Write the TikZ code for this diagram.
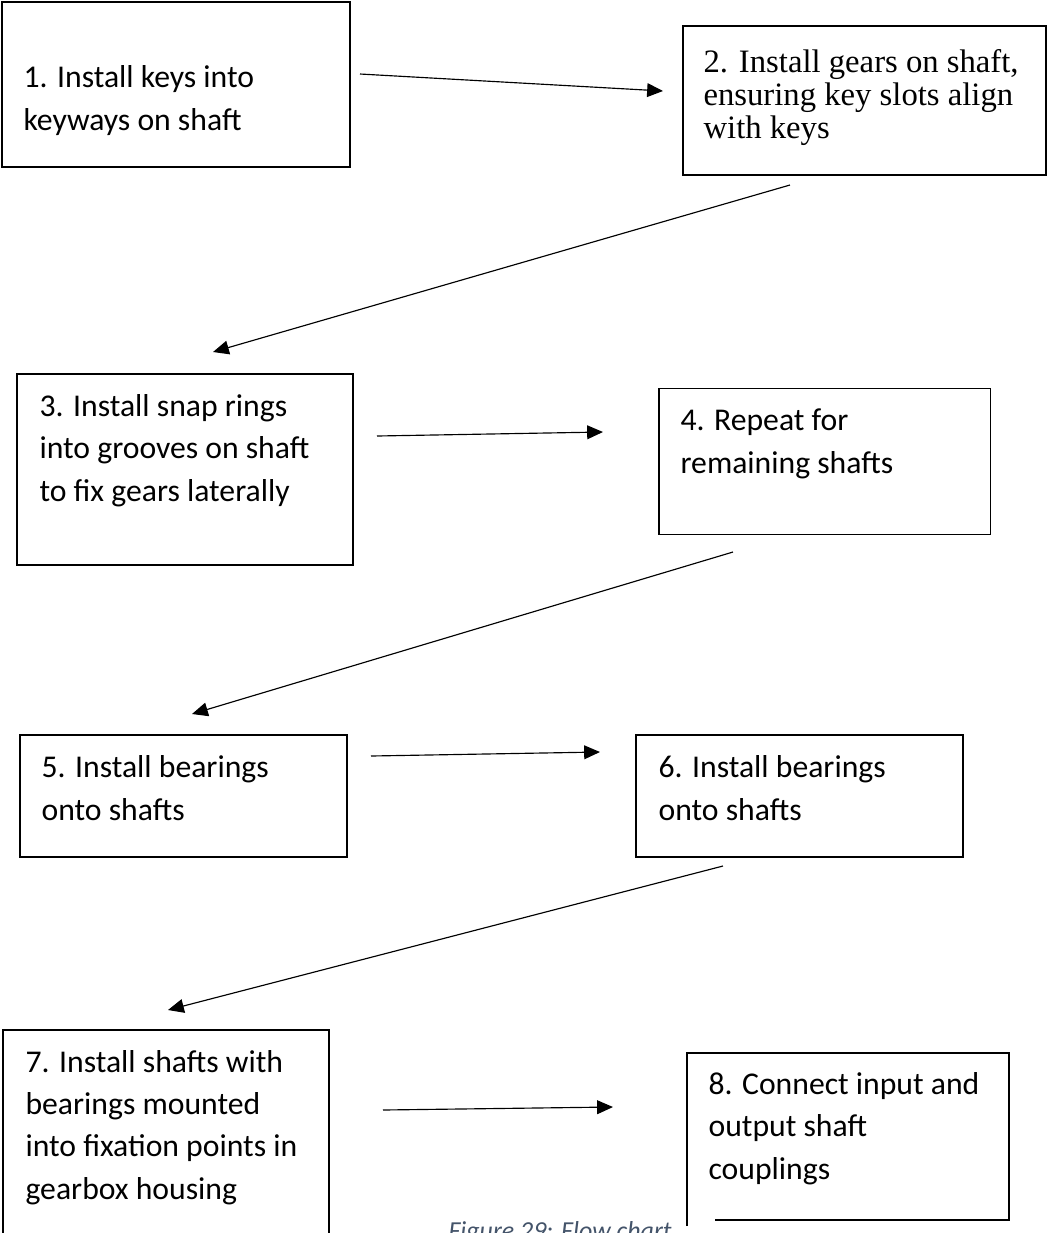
\documentclass[tikz,border=0pt]{standalone}
\usepackage{fontspec}
\setmainfont{Carlito}
\newfontfamily\timesfont{Liberation Serif}
\usetikzlibrary{
  arrows.meta,
  positioning,
  calc
}
\newlength\pxu
\setlength\pxu{0.3472pt}
\definecolor{linecolor}{RGB}{0, 0, 0}
\definecolor{captioncolor}{RGB}{68, 84, 106}
\tikzset{
stepbox/.style={
  draw=linecolor,
  line width=0.7pt,
  anchor=north west,
  inner sep=0pt,
  outer sep=0pt
},
thinbox/.style={
  stepbox,
  line width=0.35pt
},
steptext/.style={
  anchor=base west,
  align=left,
  inner sep=0pt,
  font=\fontsize{11}{14.6}\selectfont
},
serifttext/.style={
  steptext,
  font=\timesfont\fontsize{11.35}{11.3}\selectfont
},
captiontext/.style={
  anchor=base west,
  inner sep=0pt,
  text=captioncolor,
  font=\itshape\fontsize{9}{11}\selectfont
},
arrow/.style={
  -{Triangle[length=5.5pt,width=4.8pt]},
  line width=0.4pt,
  draw=linecolor
}
}
\begin{document}
\begin{tikzpicture}[x=1\pxu, y=-1\pxu]
\useasboundingbox (0,0) rectangle (1047,1233);

% boxes
\node[stepbox, minimum width=348\pxu, minimum height=165\pxu] (s1) at (2,2) {};
\node[stepbox, minimum width=363\pxu, minimum height=149\pxu] (s2) at (683,26) {};
\node[stepbox, minimum width=336\pxu, minimum height=191\pxu] (s3) at (17,374) {};
\node[thinbox, minimum width=331\pxu, minimum height=146\pxu] (s4) at (659,388) {};
\node[stepbox, minimum width=327\pxu, minimum height=122\pxu] (s5) at (20,735) {};
\node[stepbox, minimum width=327\pxu, minimum height=122\pxu] (s6) at (636,735) {};
\node[stepbox, minimum width=326\pxu, minimum height=206\pxu] (s7) at (3,1030) {};
\node[stepbox, draw=none, minimum width=322\pxu, minimum height=167\pxu] (s8) at (687,1053) {};
\draw[line width=0.7pt] ([yshift=-6\pxu]s8.south west) |- (s8.north east) |- ([xshift=28\pxu]s8.south west);

% texts (anchored at the baseline of the last line)
\node[steptext] (t1) at ([shift={(21,128)}]s1.north west) {1. Install keys into\\keyways on shaft};
\node[serifttext] (t2) at ([shift={(20,112)}]s2.north west) {2. Install gears on shaft,\\ensuring key slots align\\with keys};
\node[steptext] (t3) at ([shift={(22,127)}]s3.north west) {3. Install snap rings\\into grooves on shaft\\to fix gears laterally};
\node[steptext] (t4) at ([shift={(21,85)}]s4.north west) {4. Repeat for\\remaining shafts};
\node[steptext] (t5) at ([shift={(21,85)}]s5.north west) {5. Install bearings\\onto shafts};
\node[steptext] (t6) at ([shift={(22,85)}]s6.north west) {6. Install bearings\\onto shafts};
\node[steptext] (t7) at ([shift={(22,169)}]s7.north west) {7. Install shafts with\\bearings mounted\\into fixation points in\\gearbox housing};
\node[steptext] (t8) at ([shift={(21,126)}]s8.north west) {8. Connect input and\\output shaft\\couplings};

% arrow ends
\coordinate (o1) at (360,74);
\coordinate (i2) at (663,91);
\coordinate (o2) at (790,185);
\coordinate (i3) at (213,352);
\coordinate (o3) at (377,436);
\coordinate (i4) at (603,432);
\coordinate (o4) at (733,552);
\coordinate (i5) at (192,714);
\coordinate (o5) at (371,756);
\coordinate (i6) at (600,752);
\coordinate (o6) at (723,866);
\coordinate (i7) at (168,1010);
\coordinate (o7) at (383,1110);
\coordinate (i8) at (613,1107);

\draw[arrow] (o1) -- (i2);
\draw[arrow] (o2) -- (i3);
\draw[arrow] (o3) -- (i4);
\draw[arrow] (o4) -- (i5);
\draw[arrow] (o5) -- (i6);
\draw[arrow] (o6) -- (i7);
\draw[arrow] (o7) -- (i8);

\node[captiontext] (cap) at (448,1239) {Figure 29: Flow chart};
\end{tikzpicture}
\end{document}
